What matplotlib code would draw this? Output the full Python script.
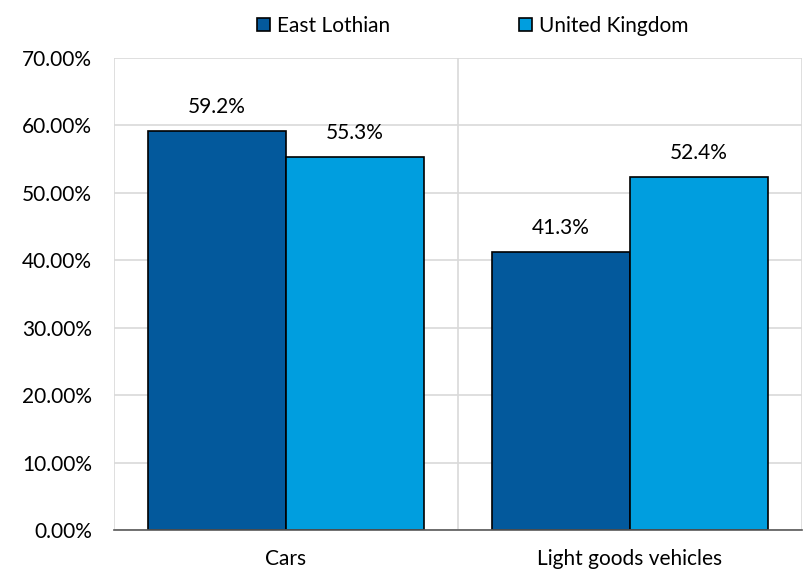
import matplotlib
matplotlib.use("Agg")
import matplotlib.pyplot as plt
import numpy as np

categories = ["Cars", "Light goods vehicles"]
series_names = ["East Lothian", "United Kingdom"]
east_lothian = [59.2, 41.3]
united_kingdom = [55.3, 52.4]
y_ticks = [0, 10, 20, 30, 40, 50, 60, 70]

colors = ["#03599C", "#009EDF"]
fs = 15

plt.rcParams["font.family"] = ["Lato", "DejaVu Sans"]

fig = plt.figure(figsize=(8.04, 5.73), dpi=100)
ax = fig.add_axes([114 / 804, 1 - 530 / 573, (802 - 114) / 804, (530 - 58) / 573])

x = np.arange(len(categories))
width = 0.4
for i, (vals, name) in enumerate(zip([east_lothian, united_kingdom], series_names)):
    pos = x + (i - 0.5) * width
    ax.bar(pos, vals, width=width, color=colors[i], edgecolor="black",
           linewidth=1.2, label=name, zorder=3)
    for p, v in zip(pos, vals):
        ax.annotate(f"{v:.1f}%", (p, v), xytext=(0, 10), textcoords="offset points",
                    ha="center", va="bottom", fontsize=fs, color="#000000")

ax.set_xlim(-0.5, len(categories) - 0.5)
ax.set_ylim(0, 70)
ax.set_yticks(y_ticks)
ax.set_yticklabels([f"{t:.2f}%" for t in y_ticks], fontsize=fs)
ax.set_xticks(x)
ax.set_xticklabels(categories, fontsize=fs)

# gridlines: horizontal at each tick, vertical at category boundaries
ax.grid(axis="y", color="#D9D9D9", linewidth=1.2, zorder=0)
for b in np.arange(-0.5, len(categories), 1.0):
    ax.axvline(b, color="#D9D9D9", linewidth=1.2, zorder=0)

for s in ["top", "right", "left"]:
    ax.spines[s].set_visible(False)
ax.spines["bottom"].set_color("#595959")
ax.spines["bottom"].set_linewidth(1.2)
ax.spines["bottom"].set_zorder(4)
ax.tick_params(axis="y", length=0, pad=16)
ax.tick_params(axis="x", length=0, pad=14)

leg = fig.legend(loc="upper center", bbox_to_anchor=(473 / 804, 1.005), ncol=2, frameon=False,
                 fontsize=fs, handlelength=0.62, handleheight=0.62, handletextpad=0.34,
                 columnspacing=6.2)

fig.savefig("out.png", dpi=100)
